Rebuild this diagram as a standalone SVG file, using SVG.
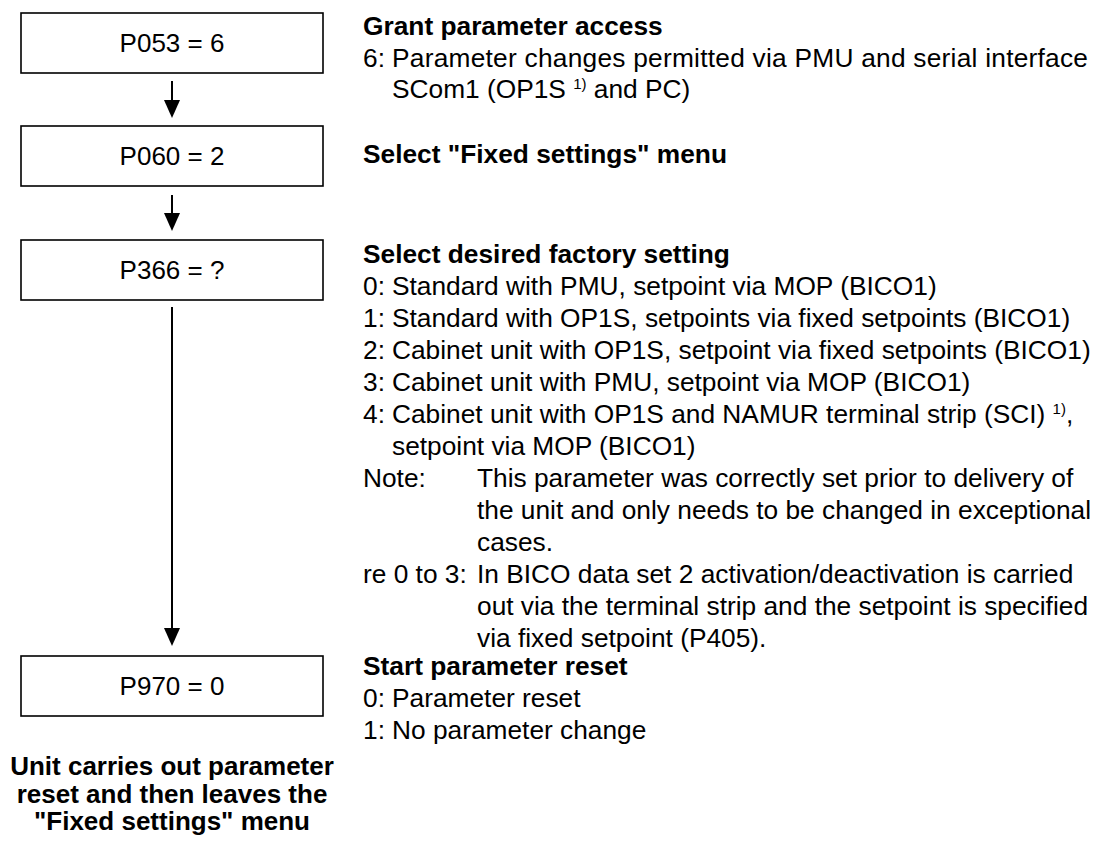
<svg xmlns="http://www.w3.org/2000/svg" width="1099" height="841" viewBox="0 0 1099 841">
<style>
.box{fill:#fff;stroke:#000;stroke-width:1.6}
.bt{font-family:"Liberation Sans",Arial,sans-serif;font-size:26px;fill:#000;text-anchor:middle}
.t{font-family:"Liberation Sans",Arial,sans-serif;font-size:26.3px;fill:#000}
.b{font-weight:bold}
.bc{font-family:"Liberation Sans",Arial,sans-serif;font-size:26px;font-weight:bold;fill:#000;text-anchor:middle}
.sup{font-size:15px}
.ln{stroke:#000;stroke-width:2;fill:none}
</style>
<rect width="1099" height="841" fill="#fff"/>
<g id="connectors">
<line class="ln" x1="172" y1="81" x2="172" y2="100"/>
<path d="M164,100 L180,100 L172,118 Z" fill="#000"/>
<line class="ln" x1="172" y1="195" x2="172" y2="213"/>
<path d="M164,213 L180,213 L172,231 Z" fill="#000"/>
<line class="ln" x1="172" y1="307" x2="172" y2="628"/>
<path d="M164,628 L180,628 L172,646 Z" fill="#000"/>
</g>
<g id="node-p053">
<rect class="box" x="21" y="13" width="302" height="60"/>
<text class="bt" x="172" y="52">P053 = 6</text>
</g>
<g id="node-p060">
<rect class="box" x="21" y="126" width="302" height="60"/>
<text class="bt" x="172" y="165">P060 = 2</text>
</g>
<g id="node-p366">
<rect class="box" x="21" y="240" width="302" height="60"/>
<text class="bt" x="172" y="279">P366 = ?</text>
</g>
<g id="node-p970">
<rect class="box" x="21" y="656" width="302" height="60"/>
<text class="bt" x="172" y="695">P970 = 0</text>
</g>
<g id="desc-p053">
<text class="t b" x="363" y="35">Grant parameter access</text>
<text class="t" x="363" y="67">6:<tspan x="392" textLength="696" lengthAdjust="spacing">Parameter changes permitted via PMU and serial interface</tspan></text>
<text class="t" x="392" y="98">SCom1 (OP1S <tspan class="sup" dy="-9">1)</tspan><tspan dy="9"> and PC)</tspan></text>
</g>
<g id="desc-p060">
<text class="t b" x="363" y="163">Select "Fixed settings" menu</text>
</g>
<g id="desc-p366">
<text class="t b" x="363" y="263">Select desired factory setting</text>
<text class="t" x="363" y="295">0:<tspan x="392">Standard with PMU, setpoint via MOP (BICO1)</tspan></text>
<text class="t" x="363" y="327">1:<tspan x="392">Standard with OP1S, setpoints via fixed setpoints (BICO1)</tspan></text>
<text class="t" x="363" y="359">2:<tspan x="392">Cabinet unit with OP1S, setpoint via fixed setpoints (BICO1)</tspan></text>
<text class="t" x="363" y="391">3:<tspan x="392">Cabinet unit with PMU, setpoint via MOP (BICO1)</tspan></text>
<text class="t" x="363" y="423">4:<tspan x="392">Cabinet unit with OP1S and NAMUR terminal strip (SCI) </tspan><tspan class="sup" dy="-9">1)</tspan><tspan dy="9">,</tspan></text>
<text class="t" x="392" y="455">setpoint via MOP (BICO1)</text>
<text class="t" x="363" y="487">Note:<tspan x="477">This parameter was correctly set prior to delivery of</tspan></text>
<text class="t" x="477" y="519">the unit and only needs to be changed in exceptional</text>
<text class="t" x="477" y="551">cases.</text>
<text class="t" x="363" y="583">re 0 to 3:<tspan x="477">In BICO data set 2 activation/deactivation is carried</tspan></text>
<text class="t" x="477" y="615">out via the terminal strip and the setpoint is specified</text>
<text class="t" x="477" y="647">via fixed setpoint (P405).</text>
</g>
<g id="desc-p970">
<text class="t b" x="363" y="675">Start parameter reset</text>
<text class="t" x="363" y="707">0:<tspan x="392">Parameter reset</tspan></text>
<text class="t" x="363" y="739">1:<tspan x="392">No parameter change</tspan></text>
</g>
<g id="result">
<text class="bc" x="172" y="775">Unit carries out parameter</text>
<text class="bc" x="172" y="803">reset and then leaves the</text>
<text class="bc" x="172" y="830">"Fixed settings" menu</text>
</g>
</svg>
